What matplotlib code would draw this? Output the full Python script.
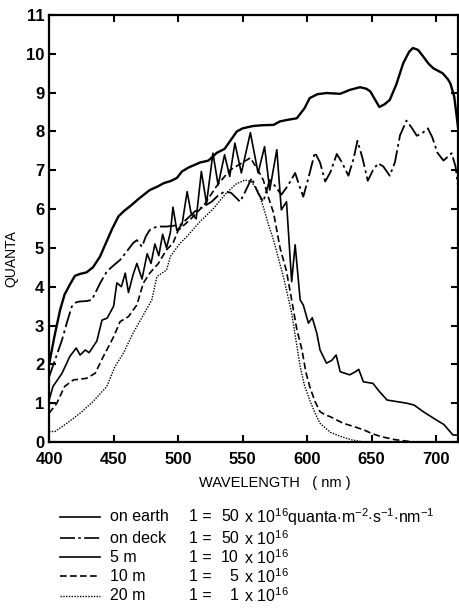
import matplotlib
matplotlib.use("Agg")
from matplotlib import pyplot as plt
from matplotlib.lines import Line2D

plt.rcParams['font.family'] = ['Liberation Sans', 'DejaVu Sans']
plt.rcParams['mathtext.fontset'] = 'custom'
plt.rcParams['mathtext.rm'] = 'Liberation Sans'

# spectra (wavelength nm, quanta)
earth_wl = [400, 404, 408.5, 412, 416, 420, 424, 429, 434, 439.5, 445, 449, 453.7, 458, 463,
            470, 478, 484, 489, 494, 499, 503, 508, 517, 523.5, 530, 536, 540, 545.5, 550,
            558, 565, 574, 579, 585, 592, 598, 602, 608, 615, 625.6, 633, 641, 646, 649,
            653, 656, 660, 664, 669, 674.5, 679, 682, 686, 690, 694, 697.7, 705, 709, 711,
            714, 717]
earth_q = [2.0, 2.7, 3.4, 3.8, 4.05, 4.28, 4.33, 4.37, 4.5, 4.78, 5.2, 5.5, 5.81, 5.95, 6.08,
           6.28, 6.49, 6.58, 6.67, 6.72, 6.8, 6.97, 7.07, 7.2, 7.25, 7.45, 7.55, 7.74, 8.0, 8.08,
           8.14, 8.16, 8.17, 8.26, 8.3, 8.34, 8.6, 8.86, 8.96, 8.99, 8.97, 9.07, 9.14, 9.1, 9.03,
           8.8, 8.63, 8.7, 8.81, 9.2, 9.76, 10.05, 10.15, 10.1, 9.93, 9.75, 9.63, 9.5, 9.35, 9.24,
           8.9, 8.1]

deck_wl = [400, 405, 410, 414, 417.6, 421, 424, 429, 433, 436, 439.5, 444.7, 450, 455, 460,
           465, 468, 472, 475, 478, 483.5, 491, 496, 501.5, 507, 513, 519, 526, 531, 536,
           541, 548, 552, 557, 562, 566, 571, 575, 580, 585, 590.7, 594, 597, 601, 606, 610,
           614, 618, 623, 627, 632, 636, 639, 643, 647, 651, 655, 659, 664, 668, 672, 677,
           681, 685, 689, 693.6, 697, 701, 705.7, 709, 712, 715, 717]
deck_q = [1.68, 2.15, 2.63, 3.1, 3.49, 3.6, 3.62, 3.63, 3.66, 3.85, 4.09, 4.39, 4.55, 4.69, 4.9,
          5.12, 5.2, 5.03, 5.3, 5.46, 5.55, 5.55, 5.57, 5.59, 5.75, 5.94, 6.05, 6.19, 6.35, 6.45,
          6.42, 6.19, 6.45, 6.8, 6.41, 6.19, 6.75, 6.6, 6.37, 6.6, 6.93, 6.6, 6.32, 6.8, 7.46, 7.2,
          6.71, 6.95, 7.42, 7.2, 6.86, 7.3, 7.76, 7.3, 6.73, 7.0, 7.18, 7.1, 6.86, 7.2, 7.9, 8.28,
          8.1, 7.89, 7.95, 8.08, 7.85, 7.45, 7.25, 7.35, 7.44, 7.1, 6.58]

m5_wl = [400, 403, 410, 416, 421, 424, 428, 431, 437, 441, 445, 450, 452.5, 456, 459, 461.5,
         465, 468, 472, 476, 479, 482, 485, 488, 491, 494, 496, 499, 503, 507, 510, 514, 518,
         522, 527, 531, 536, 540, 544, 549, 556, 562, 567, 571, 576.5, 580, 584, 588, 590.7,
         594.6, 597, 601, 604, 607.5, 610, 615, 619, 622.5, 625.6, 633, 637, 640, 643.6, 651,
         656, 662, 669.5, 677, 683, 690, 700, 706, 713, 717]
m5_q = [1.08, 1.43, 1.77, 2.2, 2.42, 2.24, 2.37, 2.3, 2.6, 3.14, 3.19, 3.5, 4.1, 4.0, 4.35, 3.85,
        4.3, 4.6, 4.2, 4.85, 4.6, 5.1, 4.8, 5.35, 5.0, 5.4, 6.05, 5.45, 5.6, 6.45, 5.9, 5.75, 6.97,
        6.15, 7.44, 6.62, 7.4, 6.84, 7.7, 6.93, 7.97, 6.93, 7.61, 6.49, 7.53, 5.98, 6.19, 4.13, 5.08,
        3.66, 3.53, 3.06, 3.2, 2.8, 2.37, 2.03, 2.1, 2.24, 1.81, 1.73, 1.8, 1.87, 1.55, 1.51,
        1.3, 1.08, 1.04, 1.0, 0.95, 0.78, 0.57, 0.45, 0.18, 0.18]

m10_wl = [400, 406, 412, 419, 429, 435.7, 442, 450, 455, 461.5, 468, 473, 478, 484.7, 491, 496,
          500, 510, 520, 530, 540, 550, 556, 562, 566, 570, 574, 579, 584, 588, 592, 596, 599,
          602, 606, 610, 614, 618, 628, 636, 644, 650, 657, 668, 680]
m10_q = [0.74, 1.0, 1.43, 1.6, 1.64, 1.77, 2.2, 2.71, 3.1, 3.23, 3.53, 4.09, 4.35, 4.6, 4.95, 5.12,
         5.45, 5.75, 6.1, 6.6, 7.0, 7.2, 7.32, 7.0, 6.75, 6.3, 5.9, 5.0, 4.4, 3.66, 2.9, 2.37, 1.8,
         1.43, 1.05, 0.78, 0.7, 0.65, 0.48, 0.4, 0.31, 0.22, 0.14, 0.06, 0.01]

m20_wl = [400, 404.6, 413.7, 424, 434, 444.7, 451, 457.6, 465, 473, 479.6, 483.5, 491, 494,
          501.5, 506.7, 517, 527, 537, 545, 552, 557, 562, 566, 570, 574, 578, 582, 588, 594.6,
          598, 602, 606, 610, 618, 626, 635, 644]
m20_q = [0.27, 0.27, 0.48, 0.74, 1.04, 1.43, 1.94, 2.29, 2.8, 3.27, 3.66, 4.26, 4.43, 4.78,
         5.12, 5.29, 5.68, 6.0, 6.4, 6.65, 6.75, 6.7, 6.45, 6.06, 5.6, 5.2, 4.7, 4.2, 3.32, 1.94,
         1.45, 1.08, 0.75, 0.48, 0.25, 0.14, 0.05, 0.0]

labels = ['on earth', 'on deck', '5 m', '10 m', '20 m']
scale_num = ['50', '50', '10', '5', '1']

fig = plt.figure(figsize=(4.59, 6.13), dpi=100)
ax = fig.add_axes([0.107, 0.279, 0.891, 0.6965])

styles = [dict(ls='-', lw=1.7),
          dict(ls=(0, (9, 2, 1.5, 2)), lw=1.3),
          dict(ls='-', lw=1.2),
          dict(ls=(0, (4, 2)), lw=1.2),
          dict(ls=(0, (1, 1)), lw=1.0)]
series = [(earth_wl, earth_q), (deck_wl, deck_q), (m5_wl, m5_q), (m10_wl, m10_q), (m20_wl, m20_q)]
for (wl, q), st in zip(series, styles):
    ax.plot(wl, q, color='black', **st)

ax.set_xlim(400, 717)
ax.set_ylim(0, 11)
ax.set_xticks([400, 450, 500, 550, 600, 650, 700])
ax.set_yticks(range(0, 12))
ax.tick_params(direction='in', length=5, width=1.5, top=True, right=True, labelsize=12)
ax.tick_params(axis='x', pad=7)
ax.tick_params(axis='y', pad=3.5)
for lab in ax.get_xticklabels() + ax.get_yticklabels():
    lab.set_fontweight('bold')
for sp in ax.spines.values():
    sp.set_linewidth(1.6)

ax.set_xlabel('WAVELENGTH   ( nm )', fontsize=10.5)
ax.xaxis.set_label_coords(0.553, -0.08)
ax.set_ylabel('QUANTA', fontsize=10)
ax.yaxis.set_label_coords(-0.076, 0.43)

# legend drawn below the axes
rows_y = [0.157, 0.122, 0.091, 0.060, 0.028]
for i, y in enumerate(rows_y):
    st = styles[i]
    fig.add_artist(Line2D([0.131, 0.218], [y, y], transform=fig.transFigure,
                          color='black', ls=st['ls'], lw=min(st['lw'], 1.2)))
    fig.text(0.240, y, labels[i], fontsize=11.5, va='center')
    fig.text(0.412, y, '1 =', fontsize=11.5, va='center')
    fig.text(0.520, y, scale_num[i], fontsize=11.5, va='center', ha='right')
    tail = r' x 10$^{16}$'
    if i == 0:
        tail += r'quanta$\cdot$m$^{-2}$$\cdot$s$^{-1}$$\cdot$nm$^{-1}$'
    fig.text(0.522, y, tail, fontsize=11.5, va='center')

fig.savefig('out.png', dpi=100)
